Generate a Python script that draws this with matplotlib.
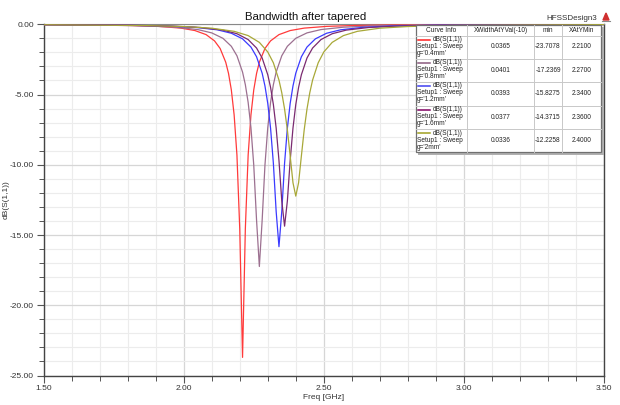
import matplotlib
matplotlib.use("Agg")
import matplotlib.pyplot as plt
from matplotlib.patches import Rectangle
from matplotlib.ticker import MultipleLocator, FormatStrFormatter

plt.rcParams['font.family'] = ['Liberation Sans', 'DejaVu Sans']

# ---------------- data ----------------
labels = ["g='0.4mm'", "g='0.8mm'", "g='1.2mm'", "g='1.6mm'", "g='2mm'"]
colors = ['#ff3a3a', '#9c7090', '#3a3aff', '#7a2a70', '#a8a838']
legend_colors = ['#ff2020', '#8a5a7e', '#4040f0', '#800060', '#a0a020']

freq_g04 = [1.50, 1.66, 1.81, 1.91, 1.99, 2.04, 2.08, 2.11, 2.13, 2.15, 2.16, 2.17, 2.18, 2.19, 2.20,
            2.21, 2.22, 2.23, 2.24, 2.25, 2.26, 2.27, 2.29, 2.31, 2.34, 2.38, 2.43, 2.51, 2.61, 2.76, 3.50]
db_g04 = [-0.027, -0.045, -0.084, -0.148, -0.271, -0.445, -0.735, -1.18, -1.72, -2.70, -3.50, -4.67, -6.45, -9.31, -14.55,
          -23.71, -14.55, -9.31, -6.45, -4.67, -3.50, -2.70, -1.72, -1.18, -0.735, -0.445, -0.271, -0.148, -0.084, -0.045, -0.008]

freq_g08 = [1.50, 1.72, 1.87, 1.97, 2.05, 2.10, 2.14, 2.17, 2.19, 2.21, 2.22, 2.23, 2.24, 2.25, 2.26,
            2.27, 2.28, 2.29, 2.30, 2.31, 2.32, 2.33, 2.35, 2.37, 2.40, 2.44, 2.49, 2.57, 2.67, 2.82, 3.50]
db_g08 = [-0.032, -0.062, -0.117, -0.206, -0.375, -0.611, -0.996, -1.565, -2.24, -3.40, -4.30, -5.56, -7.36, -10.02, -13.94,
          -17.24, -13.94, -10.02, -7.36, -5.56, -4.30, -3.40, -2.24, -1.565, -0.996, -0.611, -0.375, -0.206, -0.117, -0.062, -0.013]

freq_g12 = [1.50, 1.79, 1.94, 2.04, 2.12, 2.17, 2.21, 2.24, 2.26, 2.28, 2.29, 2.30, 2.31, 2.32, 2.33,
            2.34, 2.35, 2.36, 2.37, 2.38, 2.39, 2.40, 2.42, 2.44, 2.47, 2.51, 2.56, 2.64, 2.74, 2.89, 3.50]
db_g12 = [-0.028, -0.065, -0.122, -0.215, -0.392, -0.637, -1.035, -1.62, -2.31, -3.48, -4.39, -5.63, -7.39, -9.89, -13.33,
          -15.83, -13.33, -9.89, -7.39, -5.63, -4.39, -3.48, -2.31, -1.62, -1.035, -0.637, -0.392, -0.215, -0.122, -0.065, -0.015]

freq_g16 = [1.50, 1.81, 1.96, 2.06, 2.14, 2.19, 2.23, 2.26, 2.28, 2.30, 2.31, 2.32, 2.33, 2.34, 2.35,
            2.36, 2.37, 2.38, 2.39, 2.40, 2.41, 2.42, 2.44, 2.46, 2.49, 2.53, 2.58, 2.66, 2.76, 2.91, 3.50]
db_g16 = [-0.028, -0.069, -0.130, -0.228, -0.414, -0.671, -1.086, -1.69, -2.40, -3.59, -4.49, -5.71, -7.39, -9.69, -12.57,
          -14.37, -12.57, -9.69, -7.39, -5.71, -4.49, -3.59, -2.40, -1.69, -1.086, -0.671, -0.414, -0.228, -0.130, -0.069, -0.017]

freq_g20 = [1.50, 1.85, 2.00, 2.10, 2.18, 2.23, 2.27, 2.30, 2.32, 2.34, 2.35, 2.36, 2.37, 2.38, 2.39,
            2.40, 2.41, 2.42, 2.43, 2.44, 2.45, 2.46, 2.48, 2.50, 2.53, 2.57, 2.62, 2.70, 2.80, 2.95, 3.50]
db_g20 = [-0.032, -0.085, -0.158, -0.277, -0.500, -0.804, -1.286, -1.97, -2.74, -3.97, -4.87, -6.03, -7.52, -9.37, -11.28,
          -12.23, -11.28, -9.37, -7.52, -6.03, -4.87, -3.97, -2.74, -1.97, -1.286, -0.804, -0.500, -0.277, -0.158, -0.085, -0.021]

# table values
col_headers = ['Curve Info', 'XWidthAtYVal(-10)', 'min', 'XAtYMin']
xwidth_vals = ['0.0365', '0.0401', '0.0393', '0.0377', '0.0336']
min_vals = ['-23.7078', '-17.2369', '-15.8275', '-14.3715', '-12.2258']
xatmin_vals = ['2.2100', '2.2700', '2.3400', '2.3600', '2.4000']

x_ticks = [1.50, 2.00, 2.50, 3.00, 3.50]
y_ticks = [-25.0, -20.0, -15.0, -10.0, -5.0, 0.0]

series = [(freq_g04, db_g04), (freq_g08, db_g08), (freq_g12, db_g12), (freq_g16, db_g16), (freq_g20, db_g20)]

# ---------------- figure ----------------
W, H = 620, 405
fig = plt.figure(figsize=(W / 100, H / 100), dpi=100)
fig.patch.set_facecolor('white')

L, R, T, B = 43.6, 604.0, 24.3, 375.5
ax = fig.add_axes([L / W, 1 - B / H, (R - L) / W, (B - T) / H])
ax.set_xlim(1.5, 3.5)
ax.set_ylim(-25, 0)

ax.set_xticks(x_ticks)
ax.set_yticks(y_ticks)
ax.xaxis.set_minor_locator(MultipleLocator(0.1))
ax.yaxis.set_minor_locator(MultipleLocator(1.0))
ax.xaxis.set_major_formatter(FormatStrFormatter('%.2f'))
ax.yaxis.set_major_formatter(FormatStrFormatter('%.2f'))

ax.grid(which='minor', color='#ececec', lw=0.8)
ax.grid(which='major', color='#d6d6d6', lw=0.9)
ax.set_axisbelow(True)

ax.tick_params(which='major', direction='out', length=5, width=0.8, color='#555555',
               labelsize=6, labelcolor='#333333', pad=2)
ax.tick_params(which='minor', direction='out', length=3.5, width=0.7, color='#555555')
ax.tick_params(axis='y', which='both', left=True, right=False)
ax.tick_params(axis='x', which='both', bottom=True, top=False)

for side in ['left', 'bottom', 'right']:
    ax.spines[side].set_color('#444444')
    ax.spines[side].set_linewidth(1.0)
ax.spines['top'].set_color('#888888')
ax.spines['top'].set_linewidth(0.8)

for (f, d), c in zip(series, colors):
    ax.plot(f, d, color=c, lw=0.9, zorder=3)

ax.set_xlabel('Freq [GHz]', fontsize=6, color='#333333', labelpad=1)
ax.set_ylabel('dB(S(1,1))', fontsize=6, color='#333333')
ax.yaxis.set_label_coords((10 - L) / (R - L), 0.5)

fig.text(306 / W, 1 - 17 / H, 'Bandwidth after tapered', ha='center', va='center',
         fontsize=8.2, color='#111111')
fig.text(546 / W, 1 - 19 / H, 'HFSSDesign3', ha='left', va='center', fontsize=5.8, color='#333333')

# ---------------- overlay (pixel coordinates) for table/icon ----------------
ov = fig.add_axes([0, 0, 1, 1], zorder=10)
ov.set_xlim(0, W)
ov.set_ylim(H, 0)
ov.axis('off')
ov.patch.set_alpha(0)

# small icon
ov.fill([603, 609, 606], [20, 20, 13], color='#d03030', zorder=11)
ov.plot([602, 610], [20.5, 20.5], color='#888888', lw=0.8)

tx0, tx1 = 415.5, 601.0
ty0, ty1 = 24.5, 152.0
col_x = [415.5, 467.0, 534.0, 562.0, 601.0]
row_y = [24.5, 35.5, 58.5, 81.5, 105.5, 129.0, 152.0]

# shadow
ov.add_patch(Rectangle((tx0 + 2.5, ty0 + 2.5), tx1 - tx0, ty1 - ty0, facecolor='#b0b0b0',
                       edgecolor='none', zorder=11))
ov.add_patch(Rectangle((tx0, ty0), tx1 - tx0, ty1 - ty0, facecolor='white',
                       edgecolor='#707070', lw=0.9, zorder=12))
for cx in col_x[1:-1]:
    ov.plot([cx, cx], [ty0, ty1], color='#c8c8c8', lw=0.7, zorder=13)
for ry in row_y[1:-1]:
    ov.plot([tx0, tx1], [ry, ry], color='#c8c8c8', lw=0.7, zorder=13)

fs = 4.7
for i, h in enumerate(col_headers):
    ov.text((col_x[i] + col_x[i + 1]) / 2, (row_y[0] + row_y[1]) / 2 + 0.3, h,
            ha='center', va='center', fontsize=fs, color='#222222', zorder=14)

for r in range(5):
    top = row_y[r + 1]
    bot = row_y[r + 2]
    ov.plot([418, 430], [top + 4.3, top + 4.3], color=legend_colors[r], lw=1.1, zorder=14)
    ov.text(433, top + 4.3, 'dB(S(1,1))', ha='left', va='center', fontsize=fs, color='#222222', zorder=14)
    ov.text(417, top + 11.3, 'Setup1 : Sweep', ha='left', va='center', fontsize=fs, color='#222222', zorder=14)
    ov.text(417, top + 18.3, labels[r], ha='left', va='center', fontsize=fs, color='#222222', zorder=14)
    cy = (top + bot) / 2
    ov.text((col_x[1] + col_x[2]) / 2, cy, xwidth_vals[r], ha='center', va='center', fontsize=fs,
            color='#222222', zorder=14)
    ov.text((col_x[2] + col_x[3]) / 2, cy, min_vals[r], ha='center', va='center', fontsize=fs,
            color='#222222', zorder=14)
    ov.text((col_x[3] + col_x[4]) / 2, cy, xatmin_vals[r], ha='center', va='center', fontsize=fs,
            color='#222222', zorder=14)

fig.savefig('out.png', dpi=100, facecolor='white')
